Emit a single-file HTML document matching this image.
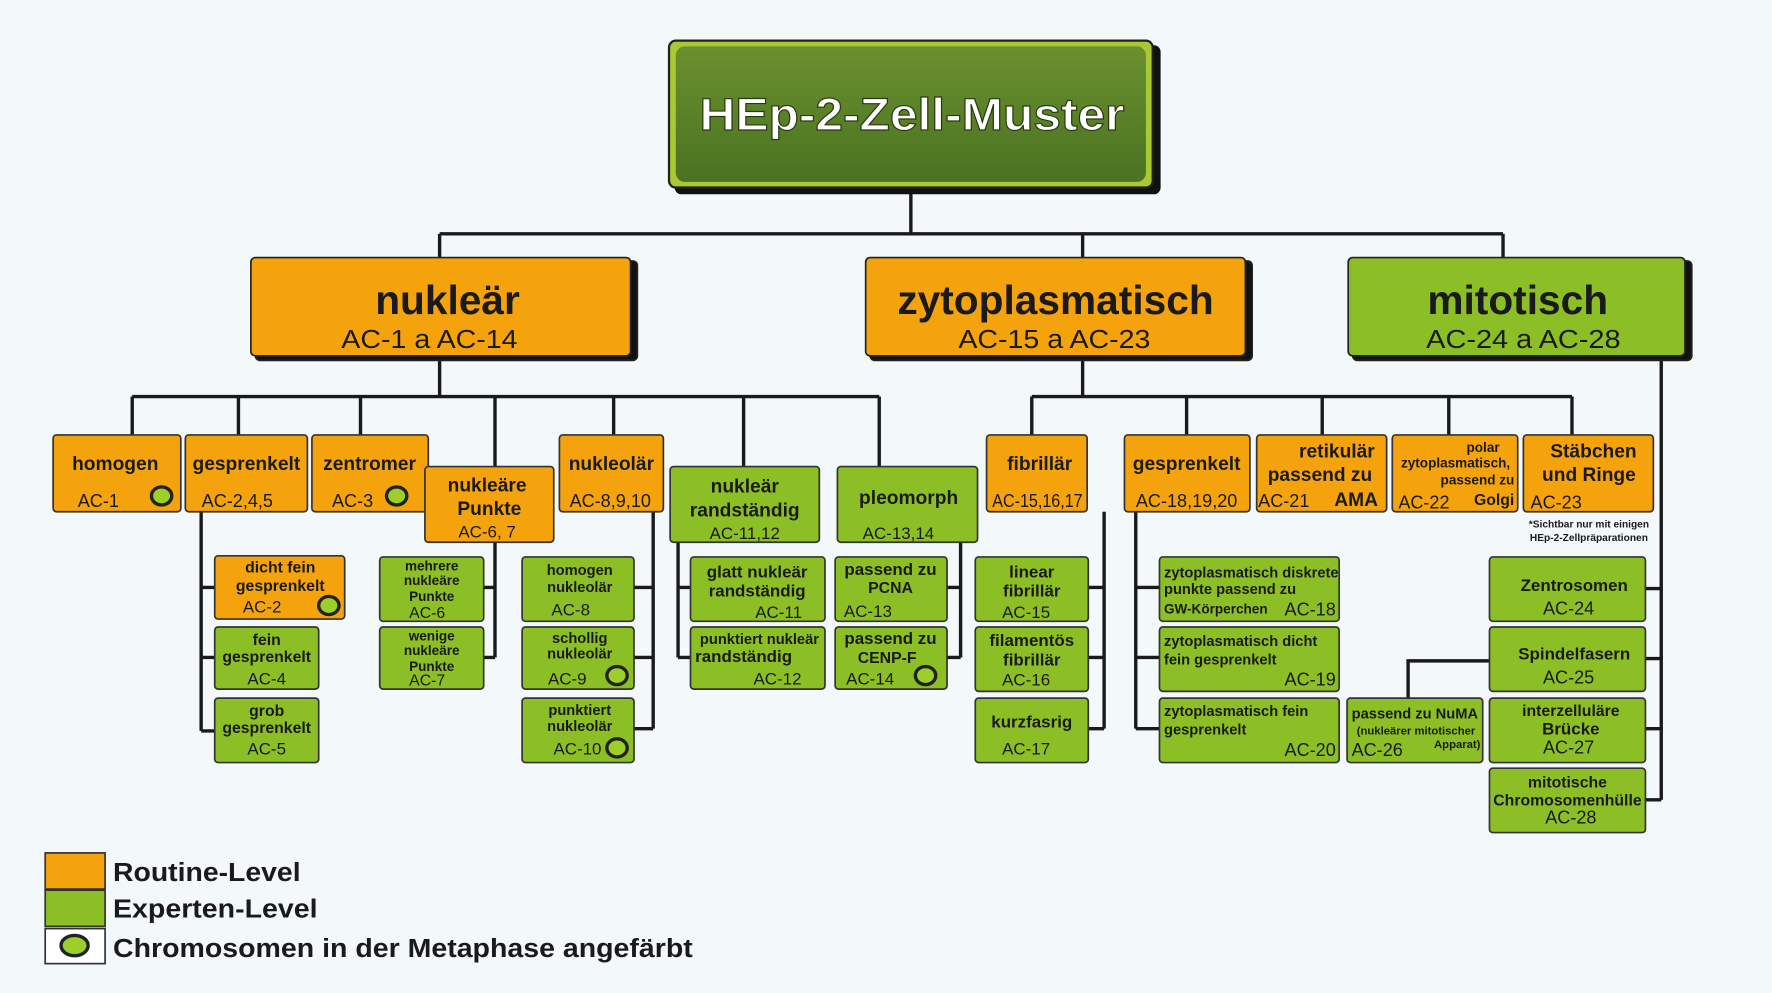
<!DOCTYPE html>
<html><head><meta charset="utf-8"><style>
html,body{margin:0;padding:0;background:#f3f8fb;}
svg{display:block}
text{font-family:"Liberation Sans Narrow","Liberation Sans",sans-serif;font-weight:bold;fill:#1a1a1a;text-anchor:middle}
</style></head><body>
<svg width="1772" height="993" viewBox="0 0 1568 879" preserveAspectRatio="none" xmlns="http://www.w3.org/2000/svg">
<defs>
<linearGradient id="gm" x1="0" y1="0" x2="0" y2="1"><stop offset="0" stop-color="#6b902f"/><stop offset="1" stop-color="#4a7321"/></linearGradient>
</defs>
<rect width="1568" height="879" fill="#f3f8fb"/>
<g stroke="#1a1a1a" stroke-width="3" fill="none">
<path d="M806 168V207M389 207H1330M389 207V228M958 207V228M1330 207V228"/>
<path d="M389 316V351M117 351H778M117 351V385M211 351V385M319 351V385M438 351V413M543 351V385M658 351V413M778 351V413"/>
<path d="M958 316V351M913 351H1391M913 351V385M1050 351V385M1170 351V385M1282 351V385M1391 351V385"/>
<path d="M1470 316V708M1456 521H1470M1456 583H1470M1456 645H1470M1456 708H1470M1246 618V585H1318"/>
<path d="M178 453V647M178 520H190M178 582H190M178 647H190"/>
<path d="M438 480V582M428 520H438M428 582H438"/>
<path d="M578 453V645M561 520H578M561 582H578M561 645H578"/>
<path d="M600 480V582M600 520H611M600 582H611"/>
<path d="M850 480V582M838 520H850M838 582H850"/>
<path d="M977 453V645M963 520H977M963 582H977M963 645H977"/>
<path d="M1005 453V645M1005 520H1026M1005 582H1026M1005 645H1026"/>
</g>
<!-- main -->
<rect x="597" y="40" width="430" height="132" rx="6" fill="#111"/>
<rect x="592" y="36" width="428" height="130" rx="6" fill="#a9c934" stroke="#222" stroke-width="2"/>
<rect x="598" y="41" width="416" height="120" rx="8" fill="url(#gm)"/>
<text x="807" y="115" font-size="40" textLength="376" lengthAdjust="spacingAndGlyphs" style="fill:#fff" stroke="#2a3a10" stroke-width="1">HEp-2-Zell-Muster</text>
<!-- level1 -->
<g stroke="#222" stroke-width="1.5">
<rect x="226" y="231" width="338" height="88" rx="4" fill="#111"/>
<rect x="222" y="228" width="336" height="87" rx="4" fill="#f5a30c"/>
<rect x="770" y="231" width="338" height="88" rx="4" fill="#111"/>
<rect x="766" y="228" width="336" height="87" rx="4" fill="#f5a30c"/>
<rect x="1197" y="231" width="300" height="88" rx="4" fill="#111"/>
<rect x="1193" y="228" width="298" height="87" rx="4" fill="#8cbf26"/>
</g>
<text x="396" y="278" font-size="36">nukleär</text><text x="380" y="308" font-size="23" textLength="156" lengthAdjust="spacingAndGlyphs" style="font-weight:normal">AC-1 a AC-14</text>
<text x="934" y="278" font-size="36">zytoplasmatisch</text><text x="933" y="308" font-size="23" textLength="170" lengthAdjust="spacingAndGlyphs" style="font-weight:normal">AC-15 a AC-23</text>
<text x="1343" y="278" font-size="36">mitotisch</text><text x="1348" y="308" font-size="23" textLength="172" lengthAdjust="spacingAndGlyphs" style="font-weight:normal">AC-24 a AC-28</text>
<!-- level2 boxes -->
<g stroke="#333" stroke-width="1.5">
<rect x="47" y="385" width="113" height="68" rx="3" fill="#f5a30c"/>
<rect x="164" y="385" width="108" height="68" rx="3" fill="#f5a30c"/>
<rect x="276" y="385" width="103" height="68" rx="3" fill="#f5a30c"/>
<rect x="495" y="385" width="92" height="68" rx="3" fill="#f5a30c"/>
<rect x="376" y="413" width="114" height="67" rx="3" fill="#f5a30c"/>
<rect x="593" y="413" width="132" height="67" rx="3" fill="#8cbf26"/>
<rect x="741" y="413" width="124" height="67" rx="3" fill="#8cbf26"/>
<rect x="873" y="385" width="89" height="68" rx="3" fill="#f5a30c"/>
<rect x="995" y="385" width="111" height="68" rx="3" fill="#f5a30c"/>
<rect x="1112" y="385" width="115" height="68" rx="3" fill="#f5a30c"/>
<rect x="1232" y="385" width="111" height="68" rx="3" fill="#f5a30c"/>
<rect x="1348" y="385" width="115" height="68" rx="3" fill="#f5a30c"/>
<!-- level3 -->
<rect x="190" y="492" width="115" height="56" rx="3" fill="#f5a30c"/>
<rect x="190" y="555" width="92" height="55" rx="3" fill="#8cbf26"/>
<rect x="190" y="618" width="92" height="57" rx="3" fill="#8cbf26"/>
<rect x="336" y="493" width="92" height="57" rx="3" fill="#8cbf26"/>
<rect x="336" y="555" width="92" height="55" rx="3" fill="#8cbf26"/>
<rect x="462" y="493" width="99" height="57" rx="3" fill="#8cbf26"/>
<rect x="462" y="555" width="99" height="55" rx="3" fill="#8cbf26"/>
<rect x="462" y="618" width="99" height="57" rx="3" fill="#8cbf26"/>
<rect x="611" y="493" width="119" height="57" rx="3" fill="#8cbf26"/>
<rect x="611" y="555" width="119" height="55" rx="3" fill="#8cbf26"/>
<rect x="739" y="493" width="99" height="57" rx="3" fill="#8cbf26"/>
<rect x="739" y="555" width="99" height="55" rx="3" fill="#8cbf26"/>
<rect x="863" y="493" width="100" height="57" rx="3" fill="#8cbf26"/>
<rect x="863" y="555" width="100" height="57" rx="3" fill="#8cbf26"/>
<rect x="863" y="618" width="100" height="57" rx="3" fill="#8cbf26"/>
<rect x="1026" y="493" width="159" height="57" rx="3" fill="#8cbf26"/>
<rect x="1026" y="555" width="159" height="57" rx="3" fill="#8cbf26"/>
<rect x="1026" y="618" width="159" height="57" rx="3" fill="#8cbf26"/>
<rect x="1192" y="618" width="120" height="57" rx="3" fill="#8cbf26"/>
<rect x="1318" y="493" width="138" height="57" rx="3" fill="#8cbf26"/>
<rect x="1318" y="555" width="138" height="57" rx="3" fill="#8cbf26"/>
<rect x="1318" y="618" width="138" height="57" rx="3" fill="#8cbf26"/>
<rect x="1318" y="680" width="138" height="57" rx="3" fill="#8cbf26"/>
</g>
<!-- chromosome icons -->
<g fill="#9ccf2a" stroke="#222" stroke-width="3">
<ellipse cx="143" cy="439" rx="9" ry="8"/><ellipse cx="351" cy="439" rx="9" ry="8"/>
<ellipse cx="291" cy="536" rx="9" ry="8"/><ellipse cx="546" cy="598" rx="9" ry="8"/>
<ellipse cx="546" cy="662" rx="9" ry="8"/><ellipse cx="819" cy="598" rx="9" ry="8"/>
</g>
<g font-size="17">
<text x="102" y="416">homogen</text><text x="87" y="449" style="font-weight:normal" font-size="16">AC-1</text>
<text x="218" y="416">gesprenkelt</text><text x="210" y="449" style="font-weight:normal" font-size="16">AC-2,4,5</text>
<text x="327" y="416">zentromer</text><text x="312" y="449" style="font-weight:normal" font-size="16">AC-3</text>
<text x="541" y="416">nukleolär</text><text x="540" y="449" style="font-weight:normal" font-size="16">AC-8,9,10</text>
<text x="431" y="435">nukleäre</text><text x="433" y="456">Punkte</text><text x="431" y="476" font-size="15" style="font-weight:normal">AC-6, 7</text>
<text x="659" y="436">nukleär</text><text x="659" y="457">randständig</text><text x="659" y="477" font-size="15" style="font-weight:normal">AC-11,12</text>
<text x="804" y="446">pleomorph</text><text x="795" y="477" font-size="15" style="font-weight:normal">AC-13,14</text>
<text x="920" y="416">fibrillär</text><text x="918" y="449" font-size="16" textLength="80" lengthAdjust="spacingAndGlyphs" style="font-weight:normal">AC-15,16,17</text>
<text x="1050" y="416">gesprenkelt</text><text x="1050" y="449" font-size="16" style="font-weight:normal">AC-18,19,20</text>
<text x="1183" y="405">retikulär</text><text x="1168" y="426">passend zu</text><text x="1136" y="449" font-size="16" style="font-weight:normal">AC-21</text><text x="1200" y="448">AMA</text>
<text x="1410" y="405">Stäbchen</text><text x="1406" y="426">und Ringe</text><text x="1377" y="450" font-size="16" style="font-weight:normal">AC-23</text>
</g>
<g font-size="12">
<text x="1327" y="400" style="text-anchor:end">polar</text><text x="1288" y="414">zytoplasmatisch,</text><text x="1340" y="429" style="text-anchor:end">passend zu</text>
<text x="1260" y="450" font-size="16" style="font-weight:normal">AC-22</text><text x="1340" y="447" font-size="14" style="text-anchor:end">Golgi</text>
<text x="1406" y="467" font-size="9">*Sichtbar nur mit  einigen</text><text x="1406" y="479" font-size="9">HEp-2-Zellpräparationen</text>
</g>
<g font-size="14">
<text x="248" y="507">dicht fein</text><text x="248" y="523">gesprenkelt</text><text x="232" y="542" font-size="15" style="font-weight:normal">AC-2</text>
<text x="236" y="571">fein</text><text x="236" y="586">gesprenkelt</text><text x="236" y="606" font-size="15" style="font-weight:normal">AC-4</text>
<text x="236" y="634">grob</text><text x="236" y="649">gesprenkelt</text><text x="236" y="668" font-size="15" style="font-weight:normal">AC-5</text>
<text x="382" y="505" font-size="12">mehrere</text><text x="382" y="518" font-size="12">nukleäre</text><text x="382" y="532" font-size="12">Punkte</text><text x="378" y="547" font-size="14" style="font-weight:normal">AC-6</text>
<text x="382" y="567" font-size="12">wenige</text><text x="382" y="580" font-size="12">nukleäre</text><text x="382" y="594" font-size="12">Punkte</text><text x="378" y="607" font-size="14" style="font-weight:normal">AC-7</text>
<text x="513" y="509" font-size="13">homogen</text><text x="513" y="524" font-size="13">nukleolär</text><text x="505" y="545" font-size="15" style="font-weight:normal">AC-8</text>
<text x="513" y="569" font-size="13">schollig</text><text x="513" y="583" font-size="13">nukleolär</text><text x="502" y="606" font-size="15" style="font-weight:normal">AC-9</text>
<text x="513" y="633" font-size="13">punktiert</text><text x="513" y="647" font-size="13">nukleolär</text><text x="511" y="668" font-size="15" style="font-weight:normal">AC-10</text>
<text x="670" y="511" font-size="15">glatt nukleär</text><text x="670" y="528" font-size="15">randständig</text><text x="689" y="547" font-size="15" style="font-weight:normal">AC-11</text>
<text x="672" y="570" font-size="13">punktiert nukleär</text><text x="658" y="586" font-size="15">randständig</text><text x="688" y="606" font-size="15" style="font-weight:normal">AC-12</text>
<text x="788" y="509" font-size="15">passend zu</text><text x="788" y="525">PCNA</text><text x="768" y="546" font-size="15" style="font-weight:normal">AC-13</text>
<text x="788" y="570" font-size="15">passend zu</text><text x="785" y="587">CENP-F</text><text x="770" y="606" font-size="15" style="font-weight:normal">AC-14</text>
<text x="913" y="511" font-size="15">linear</text><text x="913" y="528" font-size="15">fibrillär</text><text x="908" y="547" font-size="15" style="font-weight:normal">AC-15</text>
<text x="913" y="572" font-size="15">filamentös</text><text x="913" y="589" font-size="15">fibrillär</text><text x="908" y="607" font-size="15" style="font-weight:normal">AC-16</text>
<text x="913" y="644" font-size="15">kurzfasrig</text><text x="908" y="668" font-size="15" style="font-weight:normal">AC-17</text>
</g>
<g font-size="13" style="text-anchor:start">
<text x="1030" y="511" style="text-anchor:start">zytoplasmatisch diskrete</text><text x="1030" y="526" style="text-anchor:start">punkte  passend zu</text><text x="1030" y="543" font-size="12" style="text-anchor:start">GW-Körperchen</text><text x="1182" y="545" font-size="16" style="text-anchor:end;font-weight:normal">AC-18</text>
<text x="1030" y="572" style="text-anchor:start">zytoplasmatisch dicht</text><text x="1030" y="588" style="text-anchor:start">fein gesprenkelt</text><text x="1182" y="607" font-size="16" style="text-anchor:end;font-weight:normal">AC-19</text>
<text x="1030" y="634" style="text-anchor:start">zytoplasmatisch fein</text><text x="1030" y="650" style="text-anchor:start">gesprenkelt</text><text x="1182" y="669" font-size="16" style="text-anchor:end;font-weight:normal">AC-20</text>
<text x="1252" y="636" font-size="13">passend zu NuMA</text><text x="1253" y="650" font-size="10">(nukleärer mitotischer</text><text x="1310" y="662" font-size="10" style="text-anchor:end">Apparat)</text><text x="1196" y="669" font-size="16" style="text-anchor:start;font-weight:normal">AC-26</text>
</g>
<g font-size="15">
<text x="1393" y="523">Zentrosomen</text><text x="1388" y="544" font-size="16" style="font-weight:normal">AC-24</text>
<text x="1393" y="584">Spindelfasern</text><text x="1388" y="605" font-size="16" style="font-weight:normal">AC-25</text>
<text x="1390" y="634" font-size="14">interzelluläre</text><text x="1390" y="650">Brücke</text><text x="1388" y="667" font-size="16" style="font-weight:normal">AC-27</text>
<text x="1387" y="697" font-size="14">mitotische</text><text x="1387" y="713" font-size="14">Chromosomenhülle</text><text x="1390" y="729" font-size="16" style="font-weight:normal">AC-28</text>
</g>
<!-- legend -->
<rect x="40" y="755" width="53" height="32" fill="#f5a30c" stroke="#333" stroke-width="1.5"/>
<rect x="40" y="788" width="53" height="32" fill="#8cbf26" stroke="#333" stroke-width="1.5"/>
<rect x="40" y="822" width="53" height="31" fill="#fff" stroke="#333" stroke-width="1.5"/>
<ellipse cx="66" cy="837" rx="12" ry="9" fill="#9ccf2a" stroke="#222" stroke-width="3"/>
<g font-size="23" style="text-anchor:start">
<text x="100" y="780" textLength="166" lengthAdjust="spacingAndGlyphs" style="text-anchor:start">Routine-Level</text>
<text x="100" y="812" textLength="181" lengthAdjust="spacingAndGlyphs" style="text-anchor:start">Experten-Level</text>
<text x="100" y="847" textLength="513" lengthAdjust="spacingAndGlyphs" style="text-anchor:start">Chromosomen in der Metaphase angefärbt</text>
</g>
</svg>
</body></html>
